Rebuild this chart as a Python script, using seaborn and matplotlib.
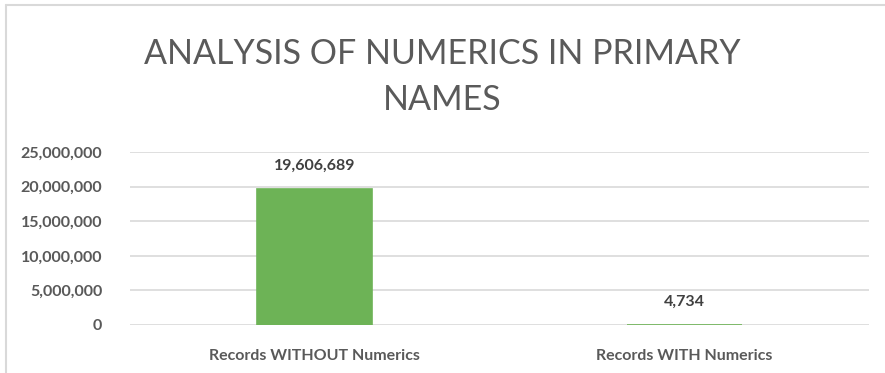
import matplotlib
matplotlib.use("Agg")
import matplotlib.pyplot as plt
import seaborn as sns
import pandas as pd
from matplotlib.ticker import FuncFormatter, MultipleLocator

categories = ["Records WITHOUT Numerics", "Records WITH Numerics"]
values = [19606689, 4734]
title = "ANALYSIS OF NUMERICS IN PRIMARY\nNAMES"

sns.set_theme(style="white")
plt.rcParams['font.family'] = ['Lato', 'DejaVu Sans']

df = pd.DataFrame({"cat": categories, "val": values})

fig = plt.figure(figsize=(8.85, 3.73), dpi=100)
ax = fig.add_axes([130/885, 48/373, (869-130)/885, (325-152)/373])

green = "#6DB356"
sns.barplot(data=df, x="cat", y="val", color=green, width=0.31, ax=ax,
            edgecolor=green, linewidth=1.2, saturation=1)

ax.set_ylim(0, 25000000)
ax.yaxis.set_major_locator(MultipleLocator(5000000))
ax.yaxis.set_major_formatter(FuncFormatter(lambda v, p: f"{int(v):,}"))
ax.grid(axis="y", color="#D9D9D9", linewidth=1.2)
ax.set_axisbelow(True)
for s in ax.spines.values():
    s.set_visible(False)
ax.set_xlabel("")
ax.set_ylabel("")
ax.tick_params(axis="both", length=0, colors="#595959", labelsize=11.5)
ax.tick_params(axis="y", pad=20)
ax.tick_params(axis="x", pad=17)
for lbl in ax.get_xticklabels() + ax.get_yticklabels():
    lbl.set_fontweight("bold")
    lbl.set_color("#595959")

for i, v in enumerate(values):
    ax.annotate(f"{v:,}", (i, v), xytext=(0, 17), textcoords="offset points",
                ha="center", va="center", fontsize=11.5, fontweight="bold",
                color="#404040")

fig.text(0.5, 1 - 77/373, title, ha="center", va="center", fontsize=24.5,
         color="#5A5A5A", fontweight="normal", linespacing=1.55)

# chart border (top and left)
fig.add_artist(plt.Line2D([6/885, 6/885], [0, 1 - 5/373], transform=fig.transFigure,
                          color="#D9D9D9", linewidth=1.5))
fig.add_artist(plt.Line2D([6/885, 1], [1 - 5/373, 1 - 5/373], transform=fig.transFigure,
                          color="#D9D9D9", linewidth=1.5))

fig.savefig("out.png", dpi=100)
